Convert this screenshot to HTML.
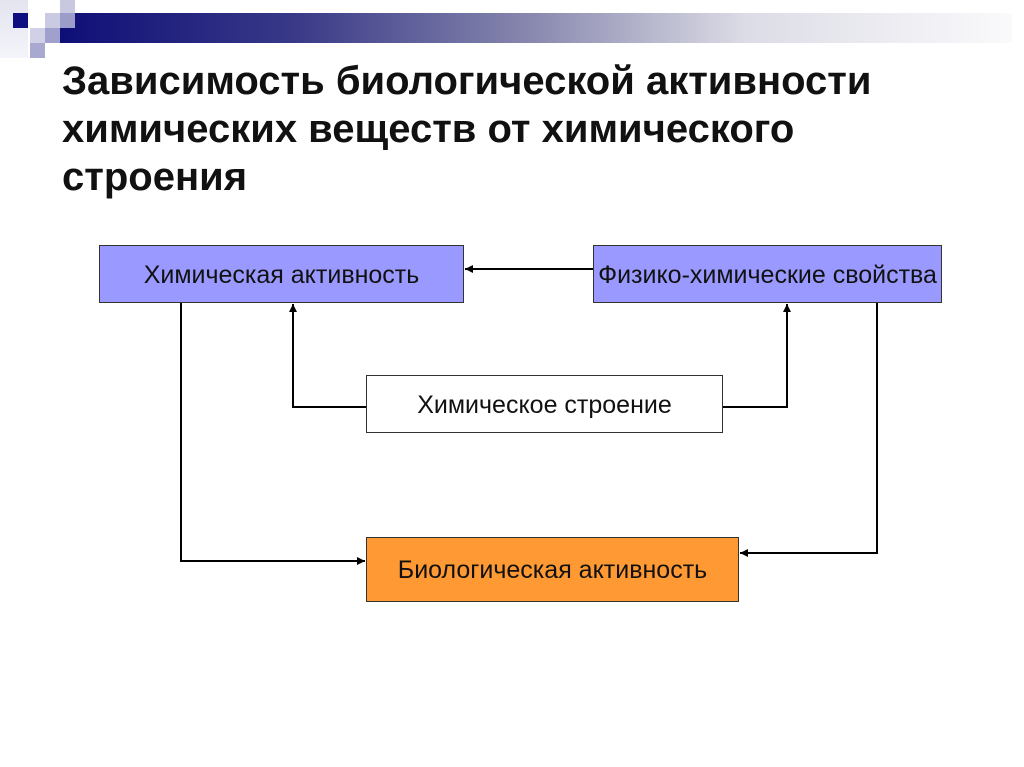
<!DOCTYPE html>
<html><head><meta charset="utf-8"><style>
body{margin:0;width:1024px;height:767px;background:#fff;position:relative;overflow:hidden;font-family:"Liberation Sans",sans-serif}
.a{position:absolute}
.box{position:absolute;border:1px solid #333;box-sizing:border-box;display:flex;align-items:center;justify-content:center;font-size:25px;color:#111;white-space:nowrap;padding-top:2px}
h1{position:absolute;left:62px;top:57px;margin:0;font-size:40px;line-height:48px;font-weight:bold;color:#111}
</style></head><body>
<div class="a" style="left:0;top:0;width:28px;height:58px;background:linear-gradient(#e4e4f0,#f4f4fa)"></div>
<div class="a" style="left:60px;top:13px;width:952px;height:30px;background:linear-gradient(90deg,#0e0e78 0%,#3a3a88 25%,#8a8ab0 50%,#dcdce6 72%,#fafafc 100%)"></div>
<div class="a" style="left:13px;top:13px;width:15px;height:15px;background:#0e0e80"></div>
<div class="a" style="left:60px;top:0;width:15px;height:13px;background:#c8c8e0"></div>
<div class="a" style="left:45px;top:13px;width:15px;height:15px;background:#cacae2"></div>
<div class="a" style="left:60px;top:13px;width:15px;height:15px;background:#9c9cc8"></div>
<div class="a" style="left:30px;top:28px;width:15px;height:15px;background:#d0d0e6"></div>
<div class="a" style="left:45px;top:28px;width:15px;height:15px;background:#a0a0cc"></div>
<div class="a" style="left:30px;top:43px;width:15px;height:15px;background:#a8a8d0"></div>
<h1>Зависимость биологической активности<br>химических веществ от химического<br>строения</h1>
<div class="box" style="left:99px;top:245px;width:365px;height:58px;background:#9999ff">Химическая активность</div>
<div class="box" style="left:593px;top:245px;width:349px;height:58px;background:#9999ff">Физико-химические свойства</div>
<div class="box" style="left:366px;top:375px;width:357px;height:58px;background:#fff">Химическое строение</div>
<div class="box" style="left:366px;top:537px;width:373px;height:65px;background:#ff9933">Биологическая активность</div>
<svg class="a" style="left:0;top:0" width="1024" height="767">
<defs><marker id="m" markerWidth="8" markerHeight="8" refX="8" refY="4" orient="auto" markerUnits="userSpaceOnUse"><path d="M0,0L8,4L0,8z" fill="#000"/></marker></defs>
<g stroke="#000" stroke-width="2" fill="none">
<path d="M593,269H465" marker-end="url(#m)"/>
<path d="M366,407H293V304" marker-end="url(#m)"/>
<path d="M723,407H787V304" marker-end="url(#m)"/>
<path d="M181,303V561H365" marker-end="url(#m)"/>
<path d="M877,303V553H740" marker-end="url(#m)"/>
</g></svg>
</body></html>
